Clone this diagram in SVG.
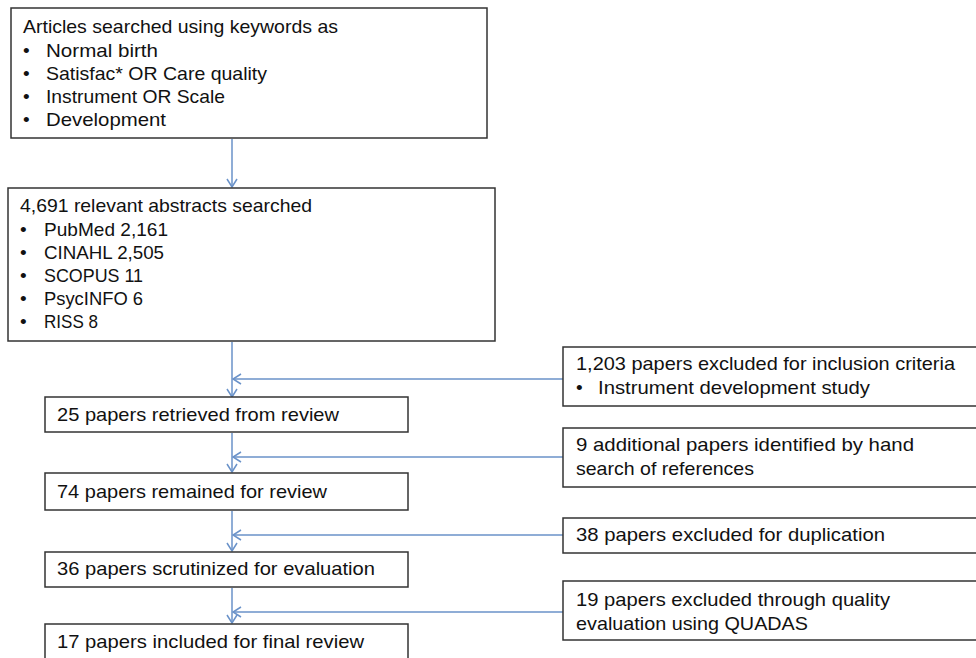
<svg xmlns="http://www.w3.org/2000/svg" width="976" height="658" viewBox="0 0 976 658">
<style>
.box{fill:#fff;stroke:#333;stroke-width:1.5}
.t{font-family:"Liberation Sans","Noto Sans","DejaVu Sans",sans-serif;font-size:19px;fill:#111}
.c{fill:none;stroke:#6a92c9;stroke-width:1.5}
</style>
<defs>
<marker id="ah" viewBox="0 0 12 12" refX="11" refY="6" markerWidth="12" markerHeight="12" markerUnits="userSpaceOnUse" orient="auto">
<path d="M3,1 L11,6 L3,11" fill="none" stroke="#6a92c9" stroke-width="1.5"/>
</marker>
</defs>
<rect width="976" height="658" fill="#fff"/>
<g id="connectors">
<line class="c" x1="232" y1="139" x2="232" y2="187" marker-end="url(#ah)"/>
<line class="c" x1="232" y1="342" x2="232" y2="397" marker-end="url(#ah)"/>
<line class="c" x1="563" y1="379" x2="233" y2="379" marker-end="url(#ah)"/>
<line class="c" x1="232" y1="433" x2="232" y2="472" marker-end="url(#ah)"/>
<line class="c" x1="563" y1="457" x2="233" y2="457" marker-end="url(#ah)"/>
<line class="c" x1="232" y1="511" x2="232" y2="551" marker-end="url(#ah)"/>
<line class="c" x1="563" y1="535" x2="233" y2="535" marker-end="url(#ah)"/>
<line class="c" x1="232" y1="588" x2="232" y2="623" marker-end="url(#ah)"/>
<line class="c" x1="563" y1="612" x2="233" y2="612" marker-end="url(#ah)"/>
</g>
<g id="n1">
<rect class="box" x="11" y="8" width="476" height="130"/>
<text class="t" x="23" y="33" textLength="315" lengthAdjust="spacingAndGlyphs">Articles searched using keywords as</text>
<text class="t" x="23" y="56.5">•</text><text class="t" x="46" y="56.5" textLength="112" lengthAdjust="spacingAndGlyphs">Normal birth</text>
<text class="t" x="23" y="80">•</text><text class="t" x="46" y="80" textLength="221" lengthAdjust="spacingAndGlyphs">Satisfac* OR Care quality</text>
<text class="t" x="23" y="103">•</text><text class="t" x="46" y="103" textLength="179" lengthAdjust="spacingAndGlyphs">Instrument OR Scale</text>
<text class="t" x="23" y="126">•</text><text class="t" x="46" y="126" textLength="120" lengthAdjust="spacingAndGlyphs">Development</text>
</g>
<g id="n2">
<rect class="box" x="8" y="188" width="487" height="153"/>
<text class="t" x="20" y="212" textLength="292" lengthAdjust="spacingAndGlyphs">4,691 relevant abstracts searched</text>
<text class="t" x="20" y="236">•</text><text class="t" x="44" y="236" textLength="124" lengthAdjust="spacingAndGlyphs">PubMed 2,161</text>
<text class="t" x="20" y="259">•</text><text class="t" x="44" y="259" textLength="120" lengthAdjust="spacingAndGlyphs">CINAHL 2,505</text>
<text class="t" x="20" y="282">•</text><text class="t" x="44" y="282" textLength="99" lengthAdjust="spacingAndGlyphs">SCOPUS 11</text>
<text class="t" x="20" y="305">•</text><text class="t" x="44" y="305" textLength="99" lengthAdjust="spacingAndGlyphs">PsycINFO 6</text>
<text class="t" x="20" y="328">•</text><text class="t" x="44" y="328" textLength="54" lengthAdjust="spacingAndGlyphs">RISS 8</text>
</g>
<g id="n3">
<rect class="box" x="45" y="397" width="363" height="35"/>
<text class="t" x="57" y="421" textLength="282" lengthAdjust="spacingAndGlyphs">25 papers retrieved from review</text>
</g>
<g id="n4">
<rect class="box" x="45" y="473" width="363" height="37"/>
<text class="t" x="57" y="498" textLength="270" lengthAdjust="spacingAndGlyphs">74 papers remained for review</text>
</g>
<g id="n5">
<rect class="box" x="45" y="552" width="363" height="35"/>
<text class="t" x="57" y="575" textLength="318" lengthAdjust="spacingAndGlyphs">36 papers scrutinized for evaluation</text>
</g>
<g id="n6">
<rect class="box" x="45" y="624" width="363" height="50"/>
<text class="t" x="57" y="648" textLength="307" lengthAdjust="spacingAndGlyphs">17 papers included for final review</text>
</g>
<g id="r1">
<rect class="box" x="563" y="347" width="420" height="59"/>
<text class="t" x="576" y="370" textLength="379" lengthAdjust="spacingAndGlyphs">1,203 papers excluded for inclusion criteria</text>
<text class="t" x="576" y="394">•</text><text class="t" x="598" y="394" textLength="272" lengthAdjust="spacingAndGlyphs">Instrument development study</text>
</g>
<g id="r2">
<rect class="box" x="563" y="428" width="420" height="59"/>
<text class="t" x="576" y="451" textLength="338" lengthAdjust="spacingAndGlyphs">9 additional papers identified by hand</text>
<text class="t" x="576" y="475" textLength="178" lengthAdjust="spacingAndGlyphs">search of references</text>
</g>
<g id="r3">
<rect class="box" x="563" y="518" width="420" height="35"/>
<text class="t" x="576" y="541" textLength="309" lengthAdjust="spacingAndGlyphs">38 papers excluded for duplication</text>
</g>
<g id="r4">
<rect class="box" x="563" y="581" width="420" height="59"/>
<text class="t" x="576" y="606" textLength="314" lengthAdjust="spacingAndGlyphs">19 papers excluded through quality</text>
<text class="t" x="576" y="630" textLength="232" lengthAdjust="spacingAndGlyphs">evaluation using QUADAS</text>
</g>
</svg>
